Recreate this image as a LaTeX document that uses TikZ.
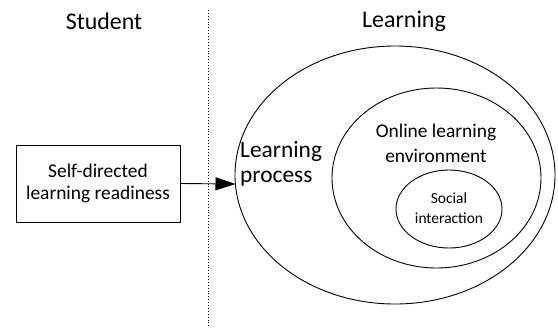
\documentclass[tikz,border=0pt]{standalone}
\usepackage{fontspec}
\setmainfont{Carlito}
\usetikzlibrary{shapes.geometric,arrows.meta}
\begin{document}
\begin{tikzpicture}[x=1bp,y=-1bp,
  ell/.style={draw,ellipse,line width=0.9bp,inner sep=0pt},
  ttl/.style={font=\fontsize{24}{28}\selectfont},
  txt/.style={align=center,inner sep=0pt}]
\useasboundingbox (0,0) rectangle (558,328);
\node[ttl] (tstud) at (104,21) {Student};
\node[ttl] (tlearn) at (404,21) {Learning};
\coordinate (dtop) at (208,10);
\coordinate (dbot) at (208,328);
\draw[dotted,line width=0.9bp] (dtop) -- (dbot);
\node[draw,line width=0.9bp,minimum width=164bp,minimum height=77bp,inner sep=0pt,align=center,
  font=\fontsize{19.5}{21.5}\selectfont] (sdlr) at (98,183.5) {Self-directed\\learning readiness};
\node[ell,minimum width=320bp,minimum height=258bp] (outer) at (395,175) {};
\node[ell,minimum width=209bp,minimum height=180bp] (mid) at (436.5,178) {};
\node[ell,minimum width=106bp,minimum height=78bp] (inner) at (449,209) {};
\node[txt,align=left,anchor=west,font=\fontsize{23.5}{25}\selectfont] (lp) at (240,164) {Learning\\process};
\node[txt,font=\fontsize{19.5}{25}\selectfont] (ole) at (436,143) {Online learning\\environment};
\node[txt,font=\fontsize{15.5}{20}\selectfont] (si) at (449,208) {Social\\interaction};
\coordinate (arrend) at (235.5,184);
\draw[line width=0.9bp,-{Triangle[length=20bp,width=13bp]}] (sdlr.east) -- (arrend);
\end{tikzpicture}
\end{document}
